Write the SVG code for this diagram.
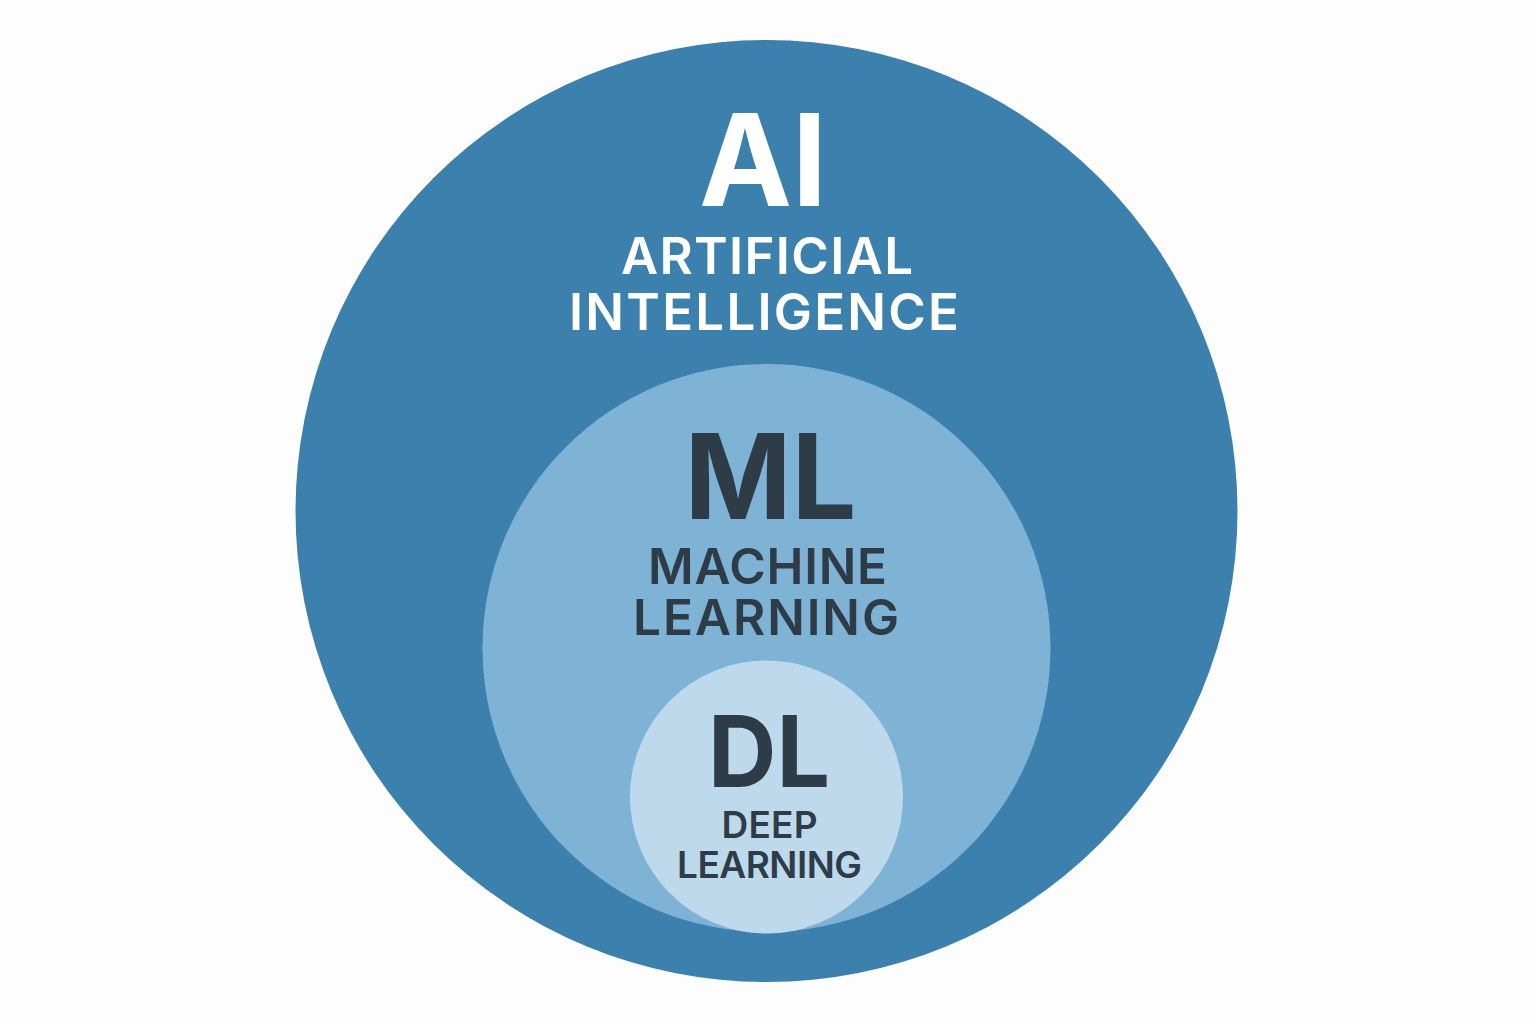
<svg xmlns="http://www.w3.org/2000/svg" width="1536" height="1024" viewBox="0 0 1536 1024">
  <style>
    .t { font-family: Inter, "Liberation Sans", Arial, sans-serif; text-anchor: middle; }
    .big { font-weight: 700; }
    .sub { font-weight: 600; }
    .light { fill: #FFFFFF; }
    .dark { fill: #2E3C47; }
  </style>
  <rect x="0" y="0" width="1536" height="1024" fill="#FDFDFD"/>
  <g id="ai">
    <circle cx="766.5" cy="511" r="471" fill="#3C80AE"/>
    <text class="t big light" x="763" y="206" font-size="128" textLength="128" lengthAdjust="spacingAndGlyphs">AI</text>
    <text class="t sub light" x="767" y="274" font-size="51" textLength="292" lengthAdjust="spacing">ARTIFICIAL</text>
    <text class="t sub light" x="764" y="330" font-size="51" textLength="390" lengthAdjust="spacing">INTELLIGENCE</text>
  </g>
  <g id="ml">
    <circle cx="766.5" cy="648" r="284" fill="#7EB3D6"/>
    <text class="t big dark" x="770.5" y="519" font-size="118" textLength="172" lengthAdjust="spacingAndGlyphs">ML</text>
    <text class="t sub dark" x="767.5" y="584" font-size="49.5" textLength="239" lengthAdjust="spacing">MACHINE</text>
    <text class="t sub dark" x="766" y="635" font-size="49.5" textLength="266" lengthAdjust="spacing">LEARNING</text>
  </g>
  <g id="dl">
    <circle cx="766.5" cy="797" r="136.5" fill="#BED9EC"/>
    <text class="t big dark" x="769" y="787" font-size="99" textLength="122" lengthAdjust="spacingAndGlyphs">DL</text>
    <text class="t sub dark" x="769.5" y="838" font-size="37" textLength="96" lengthAdjust="spacing">DEEP</text>
    <text class="t sub dark" x="769.5" y="878" font-size="37" textLength="185" lengthAdjust="spacing">LEARNING</text>
  </g>
  <g id="connectors"/>
</svg>
